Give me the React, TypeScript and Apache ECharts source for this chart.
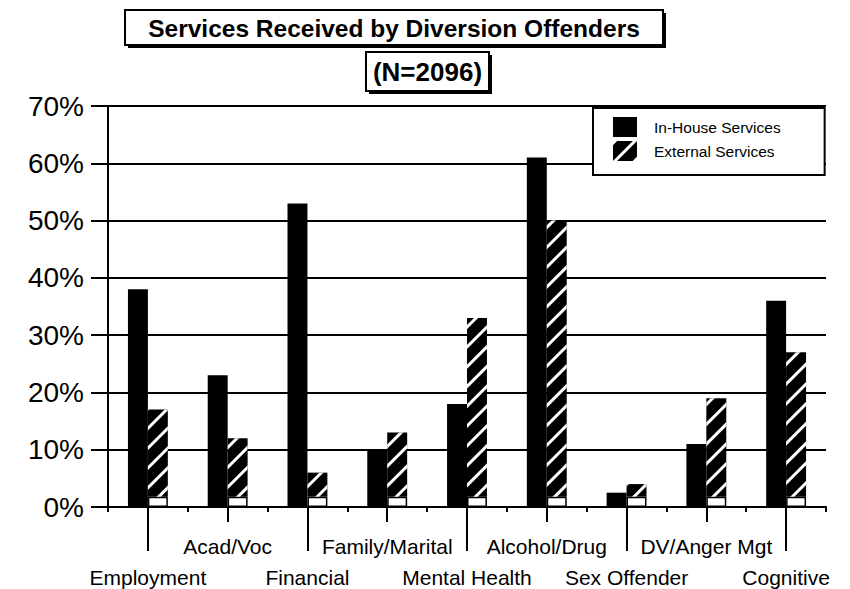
import React, { useEffect, useRef } from 'react';
import * as echarts from 'echarts';

const categories = [
  'Employment',
  'Acad/Voc',
  'Financial',
  'Family/Marital',
  'Mental Health',
  'Alcohol/Drug',
  'Sex Offender',
  'DV/Anger Mgt',
  'Cognitive',
];
const inHouse = [38, 23, 53, 10, 18, 61, 2.5, 11, 36];
const external = [17, 12, 6, 13, 33, 50, 4, 19, 27];
const footing = 1.8; // white footing drawn at the bottom of the hatched bars

const titleText = 'Services Received by Diversion Offenders';
const subtitleText = '(N=2096)';
const FONT = '"Liberation Sans", Arial, Helvetica, sans-serif';

export default function App() {
  const ref = useRef<HTMLDivElement>(null);
  useEffect(() => {
    const chart = echarts.init(ref.current!, null, { renderer: 'svg' });
    const black = '#000';
    const even = (i: number) => i % 2 === 0;
    const odd = (i: number) => i % 2 === 1;
    chart.setOption({
      animation: false,
      backgroundColor: '#fff',
      textStyle: { fontFamily: FONT, color: black },
      grid: { left: 108, right: 24, top: 106, bottom: 82, containLabel: false },
      legend: {
        data: ['In-House Services', 'External Services'],
        orient: 'vertical',
        left: 593,
        top: 108,
        backgroundColor: '#fff',
        borderColor: black,
        borderWidth: 2,
        borderRadius: 0,
        padding: [9, 44, 14, 20],
        itemWidth: 24,
        itemHeight: 20,
        itemGap: 4,
        icon: 'rect',
        textStyle: { fontSize: 15.5, fontFamily: FONT, color: black, padding: [0, 0, 0, 12] },
      },
      xAxis: [
        {
          type: 'category',
          data: categories,
          position: 'bottom',
          axisLine: { show: true, lineStyle: { color: black, width: 2 } },
          axisTick: { show: true, interval: 0, length: 5, lineStyle: { color: black, width: 2 } },
          axisLabel: { show: false },
          splitLine: { show: false },
        },
        {
          type: 'category',
          data: categories,
          position: 'bottom',
          axisLine: { show: false },
          axisTick: {
            show: true,
            alignWithLabel: true,
            interval: even,
            length: 44,
            lineStyle: { color: black, width: 2 },
          },
          axisLabel: { interval: even, margin: 60, fontSize: 21, color: black, fontFamily: FONT },
        },
        {
          type: 'category',
          data: categories,
          position: 'bottom',
          axisLine: { show: false },
          axisTick: {
            show: true,
            alignWithLabel: true,
            interval: odd,
            length: 15,
            lineStyle: { color: black, width: 2 },
          },
          axisLabel: { interval: odd, margin: 29, fontSize: 21, color: black, fontFamily: FONT },
        },
      ],
      yAxis: {
        type: 'value',
        min: 0,
        max: 70,
        interval: 10,
        axisLine: { show: true, lineStyle: { color: black, width: 2 } },
        axisTick: { show: true, length: 17, lineStyle: { color: black, width: 2 } },
        splitLine: { show: true, lineStyle: { color: black, width: 2 } },
        axisLabel: { formatter: '{value}%', fontSize: 28, color: black, margin: 24, fontFamily: FONT },
      },
      series: [
        {
          name: 'In-House Services',
          type: 'bar',
          xAxisIndex: 0,
          data: inHouse,
          barGap: '0%',
          barCategoryGap: '50%',
          itemStyle: { color: black },
        },
        {
          name: 'footing',
          type: 'bar',
          stack: 'ext',
          xAxisIndex: 0,
          data: external.map((v) => Math.min(v, footing)),
          itemStyle: { color: '#fff', borderColor: black, borderWidth: 1.5 },
        },
        {
          name: 'External Services',
          type: 'bar',
          stack: 'ext',
          xAxisIndex: 0,
          data: external.map((v) => Math.max(v - footing, 0)),
          itemStyle: {
            color: black,
            decal: {
              symbol: 'rect',
              symbolSize: 1,
              color: '#fff',
              dashArrayX: [1, 0],
              dashArrayY: [2.5, 10.5],
              rotation: -Math.PI / 4,
            },
          },
        },
      ],
      graphic: [
        { type: 'rect', shape: { x: 128, y: 13, width: 538, height: 35 }, style: { fill: black }, z: 10 },
        {
          type: 'rect',
          shape: { x: 125, y: 10, width: 538, height: 35 },
          style: { fill: '#fff', stroke: black, lineWidth: 2 },
          z: 11,
        },
        {
          type: 'text',
          x: 394,
          y: 28,
          style: {
            text: titleText,
            font: 'bold 24.5px ' + FONT,
            fill: black,
            textAlign: 'center',
            textVerticalAlign: 'middle',
          },
          z: 12,
        },
        { type: 'rect', shape: { x: 369, y: 55, width: 123, height: 39 }, style: { fill: black }, z: 10 },
        {
          type: 'rect',
          shape: { x: 366, y: 52, width: 123, height: 39 },
          style: { fill: '#fff', stroke: black, lineWidth: 2 },
          z: 11,
        },
        {
          type: 'text',
          x: 427.5,
          y: 72,
          style: {
            text: subtitleText,
            font: 'bold 26px ' + FONT,
            fill: black,
            textAlign: 'center',
            textVerticalAlign: 'middle',
          },
          z: 12,
        },
      ],
    });
    return () => chart.dispose();
  }, []);
  return <div ref={ref} style={{ position: 'fixed', left: 0, top: 0, width: 850, height: 589 }} />;
}
